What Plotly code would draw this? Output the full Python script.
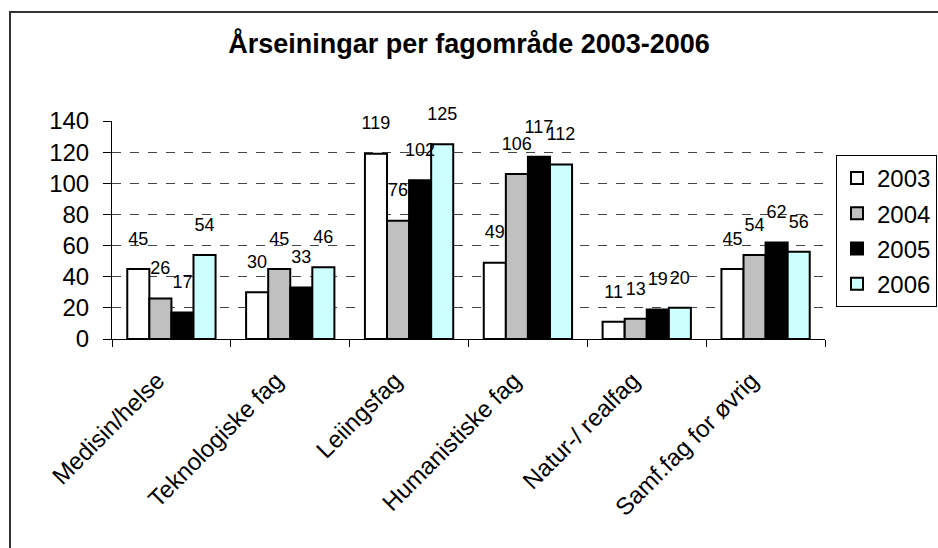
import plotly.graph_objects as go

categories = ["Medisin/helse", "Teknologiske fag", "Leiingsfag",
              "Humanistiske fag", "Natur-/ realfag", "Samf.fag for øvrig"]
years = ["2003", "2004", "2005", "2006"]
v2003 = [45, 30, 119, 49, 11, 45]
v2004 = [26, 45, 76, 106, 13, 54]
v2005 = [17, 33, 102, 117, 19, 62]
v2006 = [54, 46, 125, 112, 20, 56]
series = [v2003, v2004, v2005, v2006]
colors = ["#FFFFFF", "#C0C0C0", "#000000", "#CCFFFF"]
y_ticks = [0, 20, 40, 60, 80, 100, 120, 140]

FONT = "Liberation Sans, Arial, sans-serif"

W, H = 938, 548
PX0, PX1 = 112, 825      # plot area left/right (px)
PY0, PY1 = 121, 339      # plot area top/bottom (px)
L, T = PX0, PY0
pw, ph = PX1 - PX0, PY1 - PY0
R, B = W - L - pw, H - T - ph


def px(xpage):
    return (xpage - PX0) / pw


def py(ypage):
    return (PY1 - ypage) / ph


fig = go.Figure()
for name, vals, col in zip(years, series, colors):
    fig.add_trace(go.Bar(
        x=categories, y=vals, name=name, offsetgroup=name, legendgroup=name,
        marker=dict(color=col, line=dict(color="#000000", width=2)),
        hoverinfo="skip",
    ))
for name, vals in zip(years, series):
    fig.add_trace(go.Scatter(
        x=categories, y=vals, mode="markers+text", offsetgroup=name,
        text=[str(v) for v in vals], textposition="top center",
        textfont=dict(family=FONT, size=18, color="#000000"),
        marker=dict(size=30, opacity=0),
        showlegend=False, hoverinfo="skip", cliponaxis=False,
    ))

fig.update_layout(
    width=W, height=H,
    margin=dict(l=L, r=R, t=T, b=B, autoexpand=False),
    paper_bgcolor="white", plot_bgcolor="white",
    barmode="group", bargap=0.257, bargroupgap=0,
    scattermode="group", scattergap=0.257,
    font=dict(family=FONT, color="#000000"),
    title=dict(text="<b>Årseiningar per fagområde 2003-2006</b>",
               x=0.5, xref="container", xanchor="center",
               y=1 - 44 / H, yref="container", yanchor="middle",
               font=dict(family=FONT, size=27, color="#000000")),
    legend=dict(x=px(836), xanchor="left", y=py(155), yanchor="top",
                bordercolor="#000000", borderwidth=1, bgcolor="white",
                font=dict(family=FONT, size=24, color="#000000"),
                itemwidth=30, traceorder="grouped", tracegroupgap=1),
    showlegend=True,
    shapes=[dict(type="rect", xref="paper", yref="paper",
                 x0=px(10), x1=px(1000), y0=py(12), y1=py(620),
                 line=dict(color="#333333", width=2), fillcolor="rgba(0,0,0,0)",
                 layer="below")],
)
fig.update_xaxes(
    type="category", showline=True, linecolor="#000000", linewidth=1,
    ticks="outside", ticklen=7, tickcolor="#000000", tickson="boundaries",
    tickangle=-45, tickfont=dict(family=FONT, size=24, color="#000000"),
    ticklabelstandoff=17, ticklabelshift=-14,
    showgrid=False, zeroline=False,
)
fig.update_yaxes(
    range=[0, 140], tickvals=y_ticks, ticktext=[str(t) for t in y_ticks],
    showline=True, linecolor="#000000", linewidth=1,
    ticks="outside", ticklen=8, tickcolor="#000000", ticklabelstandoff=9,
    tickfont=dict(family=FONT, size=24, color="#000000"),
    showgrid=True, gridcolor="#444444", griddash="dash", gridwidth=1,
    zeroline=False,
)

fig.write_html(
    "out.html",
    config={"displayModeBar": False},
    post_script=("document.documentElement.style.margin='0';"
                 "document.body.style.margin='0';"
                 "document.documentElement.style.overflow='hidden';"
                 "document.body.style.overflow='hidden';"),
)
